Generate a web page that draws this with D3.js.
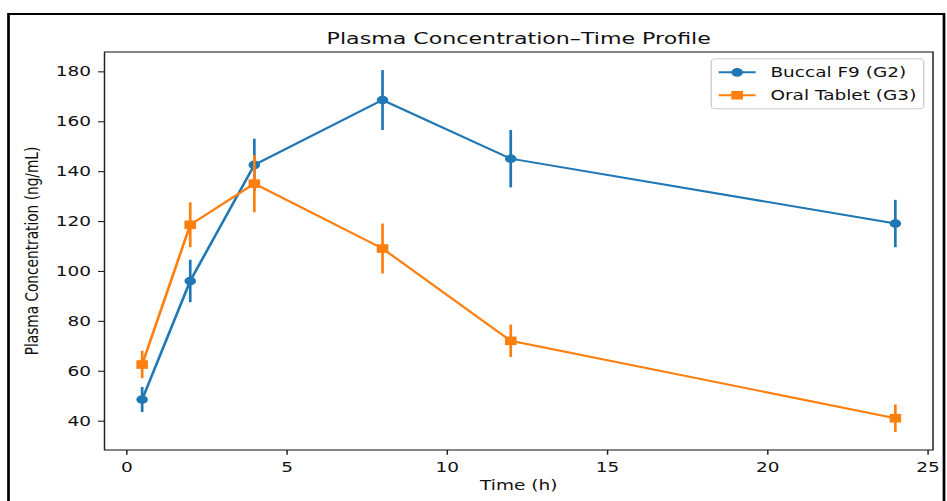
<!DOCTYPE html>
<html>
<head>
<meta charset="utf-8">
<script src="https://cdn.jsdelivr.net/npm/d3@7"></script>
<style>
  html, body { margin: 0; padding: 0; background: #fff; }
  svg { display: block; }
  text { font-family: "DejaVu Sans", sans-serif; fill: #111; }
</style>
</head>
<body>
<svg id="chart" width="947" height="501"></svg>
<script>
// Sampling times (h)
const times = [0.5, 2, 4, 8, 12, 24];
// Mean plasma concentration (ng/mL) and SD per group
const buccalMean = [48.5, 96, 142.5, 168.5, 145, 119];
const buccalSd   = [5, 8.5, 10.5, 12, 11.5, 9.5];
const oralMean   = [62.5, 118.5, 135, 109, 72, 41];
const oralSd     = [5.5, 9, 11.5, 10, 6.5, 5.5];

const seriesNames  = ["Buccal F9 (G2)", "Oral Tablet (G3)"];
const seriesColors = ["#1f77b4", "#ff7f0e"];
const seriesShapes = ["circle", "square"];

const xTicks = [0, 5, 10, 15, 20, 25];
const yTicks = [40, 60, 80, 100, 120, 140, 160, 180];

const titleText = "Plasma Concentration\u2013Time Profile";
const xLabel = "Time (h)";
const yLabel = "Plasma Concentration (ng/mL)";

// The figure is laid out in "natural" units and widened horizontally.
const SX = 1.35;
const FS = 13.7;       // base font size
const TFS = 16.4;      // title font size

const svg = d3.select("#chart");
const root = svg.append("g").attr("transform", `scale(${SX},1)`);

const W = 947 / SX;
const plot = { left: 104.5 / SX, right: 933 / SX, top: 52, bottom: 450 };

// Outer frame
root.append("rect")
  .attr("x", 8.5 / SX).attr("y", 14)
  .attr("width", (944 - 8.5) / SX).attr("height", 520)
  .attr("fill", "none").attr("stroke", "#000").attr("stroke-width", 2);

const series = [
  { name: seriesNames[0], color: seriesColors[0], shape: seriesShapes[0],
    pts: times.map((t, i) => ({ t, v: buccalMean[i], sd: buccalSd[i] })) },
  { name: seriesNames[1], color: seriesColors[1], shape: seriesShapes[1],
    pts: times.map((t, i) => ({ t, v: oralMean[i], sd: oralSd[i] })) }
];

// Domains with 5% margins around the data (incl. error bars)
const tExt = d3.extent(times);
const tPad = (tExt[1] - tExt[0]) * 0.05;
const allLo = series.flatMap(s => s.pts.map(p => p.v - p.sd));
const allHi = series.flatMap(s => s.pts.map(p => p.v + p.sd));
const vLo = d3.min(allLo), vHi = d3.max(allHi);
const vPad = (vHi - vLo) * 0.05;

const x = d3.scaleLinear().domain([tExt[0] - tPad, tExt[1] + tPad]).range([plot.left, plot.right]);
const y = d3.scaleLinear().domain([vLo - vPad, vHi + vPad]).range([plot.bottom, plot.top]);

// Axes
const xAxis = root.append("g")
  .attr("transform", `translate(0,${plot.bottom})`)
  .call(d3.axisBottom(x).tickValues(xTicks).tickFormat(d3.format("d")).tickSize(4.8).tickPadding(7));
const yAxis = root.append("g")
  .attr("transform", `translate(${plot.left},0)`)
  .call(d3.axisLeft(y).tickValues(yTicks).tickFormat(d3.format("d")).tickSize(4.8).tickPadding(5.2));

[xAxis, yAxis].forEach(g => {
  g.select(".domain").remove();
  g.selectAll(".tick line").attr("stroke", "#222").attr("stroke-width", 1.1);
  g.selectAll(".tick text").attr("font-size", FS).attr("font-family", "DejaVu Sans").attr("fill", "#111");
});

// Spines
root.append("rect")
  .attr("x", plot.left).attr("y", plot.top)
  .attr("width", plot.right - plot.left).attr("height", plot.bottom - plot.top)
  .attr("fill", "none").attr("stroke", "#222").attr("stroke-width", 1.1);

// Title and axis labels
const cx = (plot.left + plot.right) / 2;
root.append("text").attr("x", cx).attr("y", 43.8)
  .attr("text-anchor", "middle").attr("font-size", TFS).text(titleText);
root.append("text").attr("x", cx).attr("y", 490)
  .attr("text-anchor", "middle").attr("font-size", FS).text(xLabel);
root.append("text")
  .attr("transform", `translate(${32 / SX + 0.33 * FS},${(plot.top + plot.bottom) / 2}) rotate(-90)`)
  .attr("text-anchor", "middle").attr("font-size", FS).text(yLabel);

// Marker drawing helper
function drawMarker(g, shape, color, px, py) {
  if (shape === "circle") {
    g.append("circle").attr("cx", px).attr("cy", py).attr("r", 4.3).attr("fill", color);
  } else {
    const s = 8.6;
    g.append("rect").attr("x", px - s / 2).attr("y", py - s / 2)
      .attr("width", s).attr("height", s).attr("fill", color);
  }
}

// Series: connecting line, error bars, markers
const line = d3.line().x(p => x(p.t)).y(p => y(p.v));
series.forEach(s => {
  const g = root.append("g");
  g.append("path").attr("d", line(s.pts))
    .attr("fill", "none").attr("stroke", s.color).attr("stroke-width", 2);
  g.selectAll("line.err").data(s.pts).enter().append("line")
    .attr("class", "err")
    .attr("x1", p => x(p.t)).attr("x2", p => x(p.t))
    .attr("y1", p => y(p.v - p.sd)).attr("y2", p => y(p.v + p.sd))
    .attr("stroke", s.color).attr("stroke-width", 2);
  s.pts.forEach(p => drawMarker(g, s.shape, s.color, x(p.t), y(p.v)));
});

// Legend (upper right)
const lg = root.append("g");
const pad = 0.5 * FS, bpad = 0.4 * FS, hlen = 2 * FS, htp = 0.8 * FS, lsp = 0.5 * FS;
const rowH = FS * 1.17;
const labels = lg.selectAll("text").data(series).enter().append("text")
  .attr("font-size", FS).text(d => d.name);
let maxW = 0;
labels.each(function () { maxW = Math.max(maxW, this.getComputedTextLength()); });
const boxW = 2 * bpad + hlen + htp + maxW;
const boxH = 2 * bpad + series.length * rowH + (series.length - 1) * lsp;
const boxR = plot.right - pad, boxT = plot.top + pad, boxL = boxR - boxW;
lg.insert("rect", "text")
  .attr("x", boxL).attr("y", boxT).attr("width", boxW).attr("height", boxH)
  .attr("rx", 3).attr("ry", 3)
  .attr("fill", "#fff").attr("fill-opacity", 0.8)
  .attr("stroke", "#cccccc").attr("stroke-width", 1);
series.forEach((s, i) => {
  const cy = boxT + bpad + rowH / 2 + i * (rowH + lsp);
  const hx = boxL + bpad;
  lg.append("line").attr("x1", hx).attr("x2", hx + hlen).attr("y1", cy).attr("y2", cy)
    .attr("stroke", s.color).attr("stroke-width", 2);
  drawMarker(lg, s.shape, s.color, hx + hlen / 2, cy);
});
labels.attr("x", boxL + bpad + hlen + htp)
  .attr("y", (d, i) => boxT + bpad + rowH / 2 + i * (rowH + lsp))
  .attr("dy", "0.36em");
</script>
</body>
</html>
